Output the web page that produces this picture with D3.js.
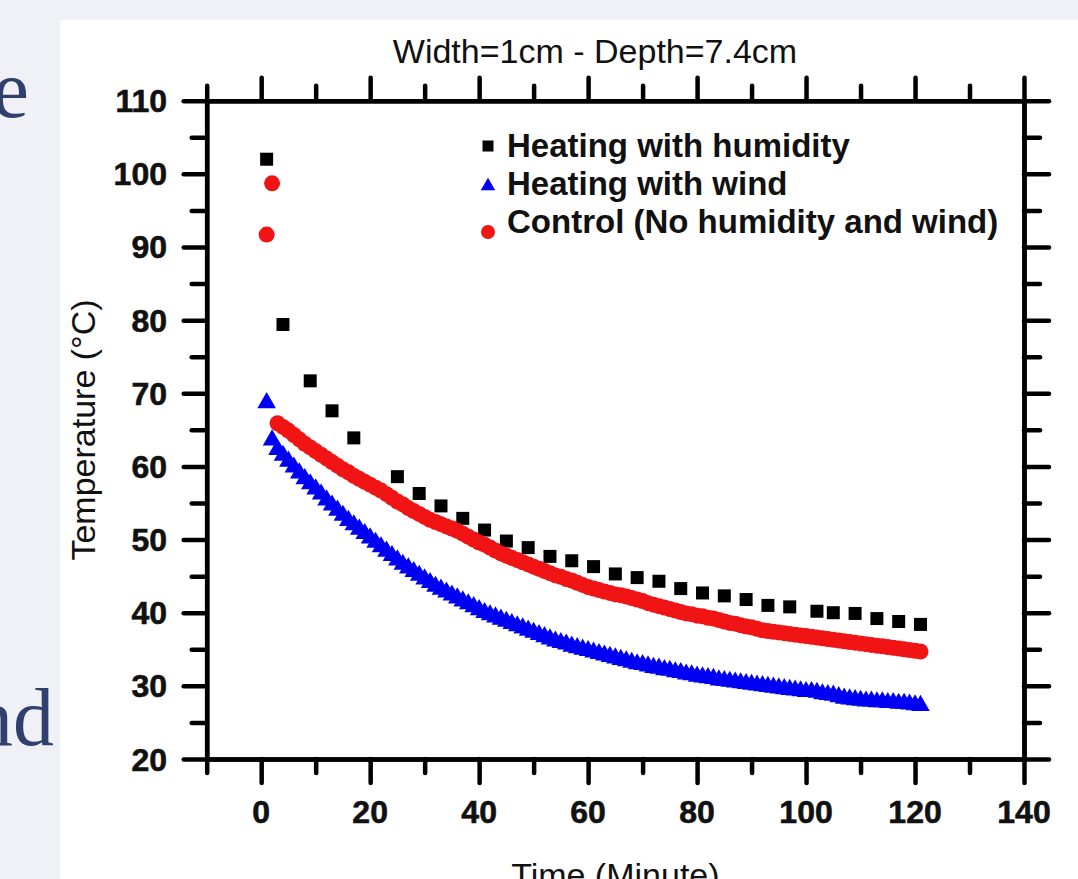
<!DOCTYPE html>
<html>
<head>
<meta charset="utf-8">
<script src="https://cdn.jsdelivr.net/npm/d3@7"></script>
<style>
  body { margin: 0; background: #eff1f7; overflow: hidden; }
  .tickLabel { font-family: "Liberation Sans", Arial, sans-serif; font-weight: bold; font-size: 32px; fill: #111; stroke: #111; stroke-width: 0.6px; }
  .axisText { font-family: "Liberation Sans", Arial, sans-serif; font-size: 34px; fill: #111; }
  .legendText { font-family: "Liberation Sans", Arial, sans-serif; font-weight: bold; font-size: 33px; fill: #111; }
  .pageText { font-family: "Liberation Serif", "Times New Roman", serif; font-size: 82px; fill: #2f3f6e; }
</style>
</head>
<body>
<div id="scatter"></div>
<script>
// Step 1: data (minutes, degC)

// black squares - heating with humidity
var humidityTime = [1, 4, 9, 13, 17, 25, 29, 33, 37, 41, 45, 49, 53, 57, 61,
  65, 69, 73, 77, 81, 85, 89, 93, 97, 102, 105, 109, 113, 117, 121];
var humidityTemp = [102.0, 79.4, 71.7, 67.6, 63.9, 58.6, 56.3, 54.6, 52.9, 51.3, 49.8, 48.9, 47.7, 47.1, 46.3,
  45.3, 44.8, 44.3, 43.3, 42.7, 42.3, 41.8, 41.0, 40.8, 40.2, 40.0, 39.9, 39.2, 38.8, 38.4];

// time axis shared by wind + control series (one reading per minute)
var minutes = [1, 2, 3, 4, 5, 6, 7, 8, 9, 10,
  11, 12, 13, 14, 15, 16, 17, 18, 19, 20,
  21, 22, 23, 24, 25, 26, 27, 28, 29, 30,
  31, 32, 33, 34, 35, 36, 37, 38, 39, 40,
  41, 42, 43, 44, 45, 46, 47, 48, 49, 50,
  51, 52, 53, 54, 55, 56, 57, 58, 59, 60,
  61, 62, 63, 64, 65, 66, 67, 68, 69, 70,
  71, 72, 73, 74, 75, 76, 77, 78, 79, 80,
  81, 82, 83, 84, 85, 86, 87, 88, 89, 90,
  91, 92, 93, 94, 95, 96, 97, 98, 99, 100,
  101, 102, 103, 104, 105, 106, 107, 108, 109, 110,
  111, 112, 113, 114, 115, 116, 117, 118, 119, 120,
  121];

// blue triangles - heating with wind
var windTemp = [68.7, 63.6, 62.3, 61.5, 60.7, 59.9, 59.1, 58.3, 57.6, 56.9,
  56.2, 55.4, 54.7, 54.0, 53.3, 52.6, 52.0, 51.4, 50.8, 50.2,
  49.6, 49.0, 48.4, 47.8, 47.2, 46.6, 46.1, 45.6, 45.1, 44.6,
  44.1, 43.6, 43.2, 42.8, 42.4, 42.0, 41.6, 41.2, 40.8, 40.4,
  40.0, 39.7, 39.4, 39.1, 38.8, 38.5, 38.2, 37.9, 37.6, 37.3,
  37.0, 36.7, 36.4, 36.1, 35.9, 35.7, 35.4, 35.2, 35.0, 34.8,
  34.6, 34.4, 34.2, 34.0, 33.8, 33.6, 33.4, 33.2, 33.0, 32.9,
  32.7, 32.5, 32.4, 32.2, 32.1, 31.9, 31.8, 31.6, 31.5, 31.3,
  31.2, 31.1, 31.0, 30.8, 30.7, 30.6, 30.5, 30.4, 30.3, 30.2,
  30.1, 30.0, 29.9, 29.8, 29.7, 29.6, 29.5, 29.4, 29.3, 29.2,
  29.2, 29.1, 28.9, 28.8, 28.7, 28.5, 28.3, 28.2, 28.1, 28.0,
  27.9, 27.9, 27.8, 27.8, 27.7, 27.7, 27.6, 27.6, 27.5, 27.4,
  27.3];

// red circles - control
var controlTemp = [91.7, 98.7, 65.9, 65.4, 64.9, 64.3, 63.7, 63.1, 62.6, 62.1,
  61.6, 61.1, 60.6, 60.1, 59.6, 59.2, 58.7, 58.3, 57.9, 57.5,
  57.1, 56.7, 56.2, 55.7, 55.2, 54.8, 54.3, 53.9, 53.5, 53.1,
  52.7, 52.4, 52.1, 51.8, 51.5, 51.2, 50.8, 50.4, 50.0, 49.6,
  49.3, 48.9, 48.5, 48.1, 47.8, 47.5, 47.2, 46.9, 46.6, 46.3,
  46.0, 45.7, 45.4, 45.1, 44.9, 44.6, 44.4, 44.1, 43.8, 43.5,
  43.3, 43.1, 42.9, 42.7, 42.5, 42.4, 42.2, 42.0, 41.8, 41.6,
  41.3, 41.1, 40.9, 40.7, 40.5, 40.3, 40.1, 39.9, 39.8, 39.6,
  39.5, 39.3, 39.2, 39.0, 38.8, 38.6, 38.5, 38.3, 38.1, 38.0,
  37.8, 37.6, 37.5, 37.4, 37.3, 37.2, 37.1, 37.0, 36.9, 36.8,
  36.7, 36.6, 36.5, 36.4, 36.3, 36.2, 36.1, 36.0, 35.9, 35.8,
  35.7, 35.6, 35.5, 35.4, 35.3, 35.2, 35.1, 35.0, 34.9, 34.8,
  34.7];

var xMajor = [0, 20, 40, 60, 80, 100, 120, 140];
var xMinor = [-10, 10, 30, 50, 70, 90, 110, 130];
var yMajor = [20, 30, 40, 50, 60, 70, 80, 90, 100, 110];
var yMinor = [25, 35, 45, 55, 65, 75, 85, 95, 105];
var legendNames = ["Heating with humidity", "Heating with wind", "Control (No humidity and wind)"];

// Step 2: svg + page bits
var svgWidth = 1078;
var svgHeight = 879;

var svg = d3.select("#scatter")
  .append("svg")
  .attr("width", svgWidth)
  .attr("height", svgHeight);

// light page, white figure panel
svg.append("rect").attr("width", svgWidth).attr("height", svgHeight).attr("fill", "#eff1f7");
svg.append("rect").attr("x", 60).attr("y", 20).attr("width", svgWidth - 60).attr("height", svgHeight - 20).attr("fill", "#fff");

// bits of the surrounding slide text (cut at left edge, like the screenshot)
svg.append("text").attr("class", "pageText").attr("x", 29).attr("y", 117).attr("text-anchor", "end").text("e");
svg.append("text").attr("class", "pageText").attr("x", 54).attr("y", 745).attr("text-anchor", "end").text("and");

// plot box
var plot = { left: 206.7, right: 1024, top: 100.7, bottom: 759 };

// Step 3: scales
var xScale = d3.scaleLinear().domain([-10, 140]).range([plot.left, plot.right]);
var yScale = d3.scaleLinear().domain([20, 110]).range([plot.bottom, plot.top]);

// Step 4: axes (all four sides, ticks outward)
var axisW = 4.5;
function styleAxis(g) {
  g.selectAll("path.domain").attr("stroke", "#000").attr("stroke-width", axisW);
  g.selectAll(".tick line").attr("stroke", "#000").attr("stroke-width", axisW).attr("stroke-linecap", "round");
  g.selectAll(".tick text").remove();
}

// bottom
svg.append("g").attr("transform", `translate(0, ${plot.bottom})`)
  .call(d3.axisBottom(xScale).tickValues(xMinor).tickSize(14).tickSizeOuter(0)).call(styleAxis);
svg.append("g").attr("transform", `translate(0, ${plot.bottom})`)
  .call(d3.axisBottom(xScale).tickValues(xMajor).tickSize(24).tickSizeOuter(0)).call(styleAxis);
// top
svg.append("g").attr("transform", `translate(0, ${plot.top})`)
  .call(d3.axisTop(xScale).tickValues(xMinor).tickSize(15).tickSizeOuter(0)).call(styleAxis);
svg.append("g").attr("transform", `translate(0, ${plot.top})`)
  .call(d3.axisTop(xScale).tickValues(xMajor).tickSize(23).tickSizeOuter(0)).call(styleAxis);
// left
svg.append("g").attr("transform", `translate(${plot.left}, 0)`)
  .call(d3.axisLeft(yScale).tickValues(yMinor).tickSize(15).tickSizeOuter(0)).call(styleAxis);
svg.append("g").attr("transform", `translate(${plot.left}, 0)`)
  .call(d3.axisLeft(yScale).tickValues(yMajor).tickSize(23).tickSizeOuter(0)).call(styleAxis);
// right
svg.append("g").attr("transform", `translate(${plot.right}, 0)`)
  .call(d3.axisRight(yScale).tickValues(yMinor).tickSize(16).tickSizeOuter(0)).call(styleAxis);
svg.append("g").attr("transform", `translate(${plot.right}, 0)`)
  .call(d3.axisRight(yScale).tickValues(yMajor).tickSize(25).tickSizeOuter(0)).call(styleAxis);

// tick labels
svg.selectAll(".xlab")
  .data(xMajor)
  .enter().append("text")
  .attr("class", "tickLabel")
  .attr("x", d => xScale(d))
  .attr("y", 823)
  .attr("text-anchor", "middle")
  .text(d => d);

svg.selectAll(".ylab")
  .data(yMajor)
  .enter().append("text")
  .attr("class", "tickLabel")
  .attr("x", 167)
  .attr("y", d => yScale(d) + 11.5)
  .attr("text-anchor", "end")
  .text(d => d);

// Step 5: markers
var humidity = humidityTime.map((t, i) => ({ t: t, v: humidityTemp[i] }));
var wind = minutes.map((t, i) => ({ t: t, v: windTemp[i] }));
var control = minutes.map((t, i) => ({ t: t, v: controlTemp[i] }));

svg.selectAll(".sq")
  .data(humidity)
  .enter().append("path")
  .attr("d", d3.symbol(d3.symbolSquare, 169))
  .attr("transform", d => `translate(${xScale(d.t)}, ${yScale(d.v)})`)
  .attr("fill", "#000");

svg.selectAll(".tri")
  .data(wind)
  .enter().append("path")
  .attr("d", d3.symbol(d3.symbolTriangle, 150))
  .attr("transform", d => `translate(${xScale(d.t)}, ${yScale(d.v)})`)
  .attr("fill", "#0000f2");

svg.selectAll(".dot")
  .data(control)
  .enter().append("circle")
  .attr("cx", d => xScale(d.t))
  .attr("cy", d => yScale(d.v))
  .attr("r", 8)
  .attr("fill", "#f01414");

// Step 6: legend
var legendY = [157, 195, 233];
svg.selectAll(".legendText")
  .data(legendNames)
  .enter().append("text")
  .attr("class", "legendText")
  .attr("x", 507)
  .attr("y", (d, i) => legendY[i])
  .text(d => d);

svg.append("path").attr("d", d3.symbol(d3.symbolSquare, 121)).attr("transform", "translate(488, 146)").attr("fill", "#000");
svg.append("path").attr("d", d3.symbol(d3.symbolTriangle, 90)).attr("transform", "translate(488, 186)").attr("fill", "#0000f2");
svg.append("circle").attr("cx", 488).attr("cy", 232).attr("r", 7).attr("fill", "#f01414");

// Step 7: titles
svg.append("text")
  .attr("class", "axisText")
  .attr("x", 595)
  .attr("y", 63)
  .attr("text-anchor", "middle")
  .text("Width=1cm - Depth=7.4cm");

svg.append("text")
  .attr("class", "axisText")
  .attr("transform", "translate(95, 430) rotate(-90)")
  .attr("text-anchor", "middle")
  .text("Temperature (°C)");

svg.append("text")
  .attr("class", "axisText")
  .attr("x", (plot.left + plot.right) / 2)
  .attr("y", 887)
  .attr("text-anchor", "middle")
  .text("Time (Minute)");
</script>
</body>
</html>
